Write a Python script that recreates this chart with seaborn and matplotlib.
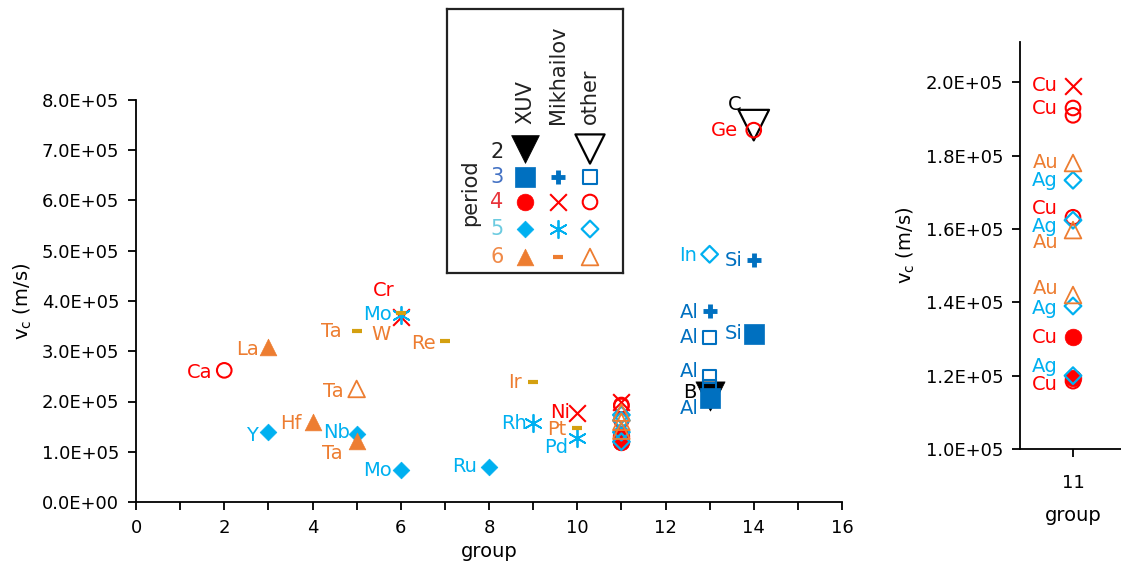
import numpy as np
import pandas as pd
import matplotlib
matplotlib.use("Agg")
import matplotlib.pyplot as plt
import seaborn as sns
from matplotlib.ticker import MultipleLocator, FuncFormatter, FixedLocator

sns.set_theme(style="white")
plt.rcParams['font.family'] = ['DejaVu Sans']
plt.rcParams['mathtext.fontset'] = 'dejavusans'

# ---------------- data ----------------
methods = ["XUV", "Mikhailov", "other"]
periods = [2, 3, 4, 5, 6]

xuv_element = ["B", "Si", "Al", "Cu", "Cu", "Y", "Nb", "Mo", "Ru", "La", "Hf", "Ta"]
xuv_period = [2, 3, 3, 4, 4, 5, 5, 5, 5, 6, 6, 6]
xuv_group = [13, 14, 13, 11, 11, 3, 5, 6, 8, 3, 4, 5]
xuv_vc = [2.10e5, 3.35e5, 2.07e5, 1.305e5, 1.193e5, 1.39e5, 1.35e5, 0.63e5, 0.70e5,
          3.08e5, 1.59e5, 1.21e5]

mikh_element = ["Si", "Al", "Cr", "Ni", "Cu", "Mo", "Rh", "Pd", "Ta", "W", "Re", "Ir", "Pt"]
mikh_period = [3, 3, 4, 4, 4, 5, 5, 5, 6, 6, 6, 6, 6]
mikh_group = [14, 13, 6, 10, 11, 6, 9, 10, 5, 6, 7, 9, 10]
mikh_vc = [4.82e5, 3.80e5, 3.68e5, 1.77e5, 1.99e5, 3.72e5, 1.57e5, 1.27e5,
           3.40e5, 3.77e5, 3.20e5, 2.38e5, 1.48e5]

other_element = ["C", "Al", "Al", "Al", "Ca", "Ge", "Cu", "Cu", "Cu", "Cu",
                 "In", "Ag", "Ag", "Ag", "Ag", "Ta", "Au", "Au", "Au"]
other_period = [2, 3, 3, 3, 4, 4, 4, 4, 4, 4, 5, 5, 5, 5, 5, 6, 6, 6, 6]
other_group = [14, 13, 13, 13, 2, 14, 11, 11, 11, 11, 13, 11, 11, 11, 11, 5, 11, 11, 11]
other_vc = [7.5e5, 3.28e5, 2.49e5, 2.30e5, 2.62e5, 7.4e5, 1.93e5, 1.91e5, 1.632e5, 1.185e5,
            4.93e5, 1.733e5, 1.624e5, 1.39e5, 1.20e5, 2.25e5, 1.78e5, 1.597e5, 1.42e5]

frames = []
for m, el, pe, gr, vc in [("XUV", xuv_element, xuv_period, xuv_group, xuv_vc),
                          ("Mikhailov", mikh_element, mikh_period, mikh_group, mikh_vc),
                          ("other", other_element, other_period, other_group, other_vc)]:
    frames.append(pd.DataFrame(dict(method=m, element=el, period=pe, group=gr, vc=vc,
                                    idx=range(len(el)))))
df = pd.concat(frames, ignore_index=True)

# ---------------- styles ----------------
period_color = {2: "black", 3: "#0070C0", 4: "#FF0000", 5: "#00B0F0", 6: "#ED7D31"}
dash_color = "#D4A010"
# (method, period): marker, size(pt), kind, linewidth
style = {
    ("XUV", 2): ("v", 21, "filled", 0.5),
    ("XUV", 3): ("s", 14, "filled", 0.5),
    ("XUV", 4): ("o", 12, "filled", 0.5),
    ("XUV", 5): ("D", 8.5, "filled", 0.5),
    ("XUV", 6): ("^", 12, "filled", 0.5),
    ("Mikhailov", 3): ("+", 10, "line", 3.5),
    ("Mikhailov", 4): ("x", 12, "line", 1.5),
    ("Mikhailov", 5): ((6, 2, 0), 12.5, "line", 1.3),
    ("Mikhailov", 6): ("_", 7, "line", 3),
    ("other", 2): ("v", 22, "open", 1.6),
    ("other", 3): ("s", 9.5, "open", 1.5),
    ("other", 4): ("o", 10.5, "open", 1.5),
    ("other", 5): ("D", 8.5, "open", 1.6),
    ("other", 6): ("^", 12, "open", 1.3),
}


def draw_group(ax, g, m, p, dcol):
    mk, ms, kind, lw = style[(m, p)]
    c = period_color[p]
    if (m, p) == ("Mikhailov", 6):
        c = dcol
    kw = dict(marker=mk, s=ms ** 2, linewidth=lw, ax=ax, legend=False, zorder=3, clip_on=True)
    if kind == "open":
        kw.update(color=c, edgecolor=c, facecolors="none")
    else:
        kw.update(color=c, edgecolor=c)
    sns.scatterplot(data=g, x="group", y="vc", **kw)


W, H = 1121, 566
fig = plt.figure(figsize=(W / 100, H / 100), dpi=100)
fig.patch.set_facecolor("white")

# ---------------- main axes ----------------
ax = fig.add_axes([136 / W, 1 - 502 / H, (842 - 136) / W, (502 - 100) / H])
for m in methods:
    for p in periods:
        g = df[(df.method == m) & (df.period == p)]
        if len(g):
            draw_group(ax, g, m, p, dash_color)

ax.set_xlim(0, 16)
ax.set_ylim(0, 8e5)
ax.xaxis.set_major_locator(MultipleLocator(2))
ax.xaxis.set_minor_locator(MultipleLocator(1))
ax.yaxis.set_major_locator(MultipleLocator(1e5))
ax.yaxis.set_major_formatter(FuncFormatter(lambda v, _: f"{v:.1E}"))
for side in ["top", "right"]:
    ax.spines[side].set_visible(False)
for side in ["left", "bottom"]:
    ax.spines[side].set_color("black")
    ax.spines[side].set_linewidth(1.3)
ax.tick_params(axis="both", which="both", direction="out", length=6, width=1.3,
               colors="black", labelsize=13, pad=6)
ax.tick_params(axis="x", which="both", bottom=True)
ax.tick_params(axis="y", left=True)
ax.set_xlabel("group", fontsize=14, labelpad=4, color="black")
ax.set_ylabel(r"v$_\mathrm{c}$ (m/s)", fontsize=14, labelpad=6, color="black")

main_off = {
    ("XUV", 0): (-13, 4), ("XUV", 1): (-11, 0), ("XUV", 2): (-11, -11),
    ("XUV", 5): (-10, -3), ("XUV", 6): (-7, 2), ("XUV", 7): (-9, 0),
    ("XUV", 8): (-12, 0), ("XUV", 9): (-9, -2), ("XUV", 10): (-11, -1),
    ("XUV", 11): (-14, -12),
    ("Mikhailov", 0): (-11, -1), ("Mikhailov", 1): (-11, -1), ("Mikhailov", 2): (-6, 27),
    ("Mikhailov", 3): (-7, 1), ("Mikhailov", 5): (-9, 1), ("Mikhailov", 6): (-6, 0),
    ("Mikhailov", 7): (-9, -9), ("Mikhailov", 8): (-15, 0), ("Mikhailov", 9): (-10, -22),
    ("Mikhailov", 10): (-9, -2), ("Mikhailov", 11): (-11, 0), ("Mikhailov", 12): (-11, -2),
    ("other", 0): (-12, 21), ("other", 1): (-11, 0), ("other", 2): (-11, 5),
    ("other", 4): (-12, -2), ("other", 5): (-16, 0), ("other", 10): (-13, -1),
    ("other", 15): (-13, -3),
}
for _, r in df.iterrows():
    key = (r.method, r.idx)
    if key not in main_off:
        continue
    dx, dy = main_off[key]
    ax.annotate(r.element, (r.group, r.vc), xytext=(dx, dy), textcoords="offset pixels",
                ha="right", va="center", fontsize=14, color=period_color[r.period], zorder=4)

# ---------------- right (zoom) axes ----------------
ax2 = fig.add_axes([1020 / W, 1 - 449 / H, 106 / W, (449 - 42) / H])
sub = df[df.group == 11]
for m in methods:
    for p in periods:
        g = sub[(sub.method == m) & (sub.period == p)]
        if len(g):
            draw_group(ax2, g, m, p, dash_color)
ax2.set_xlim(10.5, 11.5)
ax2.set_ylim(1.0e5, 2.11e5)
ax2.xaxis.set_major_locator(FixedLocator([11]))
ax2.yaxis.set_major_locator(MultipleLocator(0.2e5))
ax2.yaxis.set_major_formatter(FuncFormatter(lambda v, _: f"{v:.1E}"))
for side in ["top", "right"]:
    ax2.spines[side].set_visible(False)
for side in ["left", "bottom"]:
    ax2.spines[side].set_color("black")
    ax2.spines[side].set_linewidth(1.3)
ax2.tick_params(axis="both", direction="out", length=6, width=1.3, colors="black",
                labelsize=13, pad=6, bottom=True, left=True)
ax2.tick_params(axis="x", pad=12)
ax2.set_xlabel("group", fontsize=14, labelpad=10, color="black")
ax2.set_ylabel(r"v$_\mathrm{c}$ (m/s)", fontsize=14, labelpad=6, color="black")

zoom_off = {
    ("XUV", 3): (-15, 0),
    ("Mikhailov", 4): (-15, 0),
    ("other", 6): (-15, -1), ("other", 8): (-15, 9), ("other", 9): (-15, -3),
    ("other", 11): (-15, 0), ("other", 12): (-15, -6), ("other", 13): (-15, -3),
    ("other", 14): (-15, 9), ("other", 16): (-15, 0), ("other", 17): (-15, -12),
    ("other", 18): (-15, 6),
}
for _, r in sub.iterrows():
    key = (r.method, r.idx)
    if key not in zoom_off:
        continue
    dx, dy = zoom_off[key]
    ax2.annotate(r.element, (r.group, r.vc), xytext=(dx, dy), textcoords="offset pixels",
                 ha="right", va="center", fontsize=14, color=period_color[r.period], zorder=4)

# ---------------- custom legend table ----------------
lax = fig.add_axes([447 / W, 1 - 273 / H, 176 / W, 264 / H], zorder=5)
lax.set_facecolor("white")
lax.set_xlim(0, 176)
lax.set_ylim(264, 0)
lax.set_xticks([])
lax.set_yticks([])
for s in lax.spines.values():
    s.set_visible(True)
    s.set_linewidth(1.6)
    s.set_color("#222222")

col_x = {"XUV": 78, "Mikhailov": 111, "other": 143}
row_y = {2: 143, 3: 168, 4: 193, 5: 220, 6: 248}
row_label_color = {2: "#222222", 3: "#4472C4", 4: "#E8343A", 5: "#6CCBE0", 6: "#F08A48"}
leg_size = {("XUV", 2): 20, ("other", 2): 21}
for (m, p), (mk, ms, kind, lw) in style.items():
    c = period_color[p]
    yy = row_y[p] - (3 if p == 2 else 0)
    ms2 = leg_size.get((m, p), ms)
    kw = dict(marker=mk, s=ms2 ** 2, linewidths=lw, zorder=3)
    if kind == "open":
        kw.update(facecolors="none", edgecolors=c)
    else:
        kw.update(color=c)
    lax.scatter([col_x[m]], [yy], **kw)
for p in periods:
    lax.text(50, row_y[p], str(p), ha="center", va="center", fontsize=15,
             color=row_label_color[p])
for m in methods:
    lax.text(col_x[m], 115, m, rotation=90, ha="center", va="bottom", fontsize=15,
             color="#222222")
lax.text(23, 184, "period", rotation=90, ha="center", va="center", fontsize=15,
         color="#222222")

fig.savefig("out.png", dpi=100, facecolor="white")
